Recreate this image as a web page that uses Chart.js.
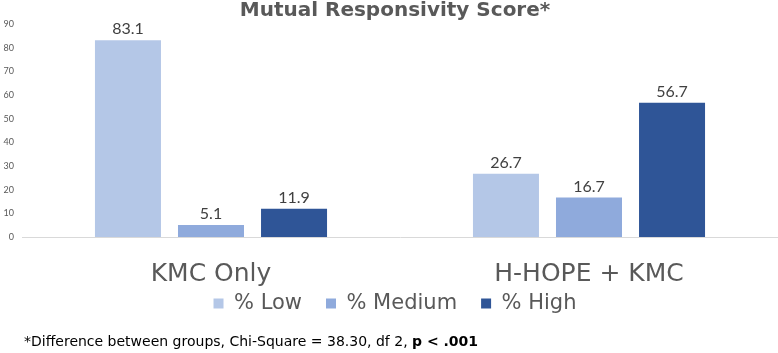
<!DOCTYPE html>
<html><head><meta charset="utf-8">
<script src="https://cdn.jsdelivr.net/npm/chart.js@4"></script>
<style>html,body{margin:0;padding:0;background:#fff}#wrap{width:778px;height:353px}</style>
</head><body><div id="wrap"><canvas id="c" width="778" height="353"></canvas></div>
<script>
const categories = ["KMC Only", "H-HOPE + KMC"];
const seriesNames = ["% Low", "% Medium", "% High"];
const lowValues = [83.1, 26.7];
const mediumValues = [5.1, 16.7];
const highValues = [11.9, 56.7];
const yTicks = [0, 10, 20, 30, 40, 50, 60, 70, 80, 90];
const titleText = "Mutual Responsivity Score*";
const footnoteText = "*Difference between groups, Chi-Square = 38.30, df 2, ";
const footnoteBold = "p < .001";
const colors = ["#b4c7e7", "#8faadc", "#2f5597"];

const labelPlugin = {
  id: 'labels',
  afterLayout(chart) {
    if (chart.legend) { chart.legend.left += 6; chart.legend.right += 6; }
  },
  afterDatasetsDraw(chart) {
    const ctx = chart.ctx;
    ctx.save();
    ctx.font = '16px Lato';
    ctx.fillStyle = '#404040';
    ctx.textAlign = 'center';
    ctx.textBaseline = 'bottom';
    chart.data.datasets.forEach((ds, i) => {
      chart.getDatasetMeta(i).data.forEach((bar, j) => {
        ctx.fillText(ds.data[j].toFixed(1), bar.x, bar.y - 3);
      });
    });
    ctx.restore();
  },
  afterDraw(chart) {
    const ctx = chart.ctx;
    ctx.save();
    ctx.fillStyle = '#595959';
    ctx.font = 'bold 20px "DejaVu Sans"';
    ctx.textAlign = 'center';
    ctx.textBaseline = 'middle';
    ctx.fillText(titleText, 395, 11);
    ctx.fillStyle = '#000';
    ctx.textAlign = 'left';
    ctx.font = '14px "DejaVu Sans"';
    ctx.fillText(footnoteText, 24, 342);
    const w = ctx.measureText(footnoteText).width;
    ctx.font = 'bold 14px "DejaVu Sans"';
    ctx.fillText(footnoteBold, 24 + w, 342);
    ctx.restore();
  }
};

new Chart(document.getElementById('c'), {
  type: 'bar',
  data: {
    labels: categories,
    datasets: [
      { label: seriesNames[0], data: lowValues, backgroundColor: colors[0] },
      { label: seriesNames[1], data: mediumValues, backgroundColor: colors[1] },
      { label: seriesNames[2], data: highValues, backgroundColor: colors[2] }
    ]
  },
  options: {
    responsive: false,
    animation: false,
    devicePixelRatio: 1,
    layout: { padding: { top: 24, bottom: 29, left: 0, right: 0 } },
    datasets: { bar: { categoryPercentage: 0.659, barPercentage: 0.795 } },
    scales: {
      x: {
        grid: { display: false, drawTicks: false },
        border: { display: true, color: '#d9d9d9', width: 1 },
        ticks: { font: { family: 'DejaVu Sans', size: 25 }, color: '#595959', padding: 22 },
        afterFit(scale) { scale.height -= 42; scale._computeLabelArea = () => undefined; }
      },
      y: {
        min: 0, max: 90,
        afterBuildTicks(scale) { scale.ticks = yTicks.map(v => ({ value: v })); },
        afterFit(scale) { scale.width = 22; },
        grid: { display: false, drawTicks: false },
        border: { display: false },
        ticks: { font: { family: 'Lato', size: 9 }, color: '#595959', padding: 8 }
      }
    },
    plugins: {
      legend: {
        position: 'bottom',
        labels: { font: { family: 'DejaVu Sans', size: 21 }, color: '#595959', boxWidth: 10, boxHeight: 10, padding: 24 }
      },
      tooltip: { enabled: false },
      title: { display: false }
    }
  },
  plugins: [labelPlugin]
});
</script>
</body></html>
